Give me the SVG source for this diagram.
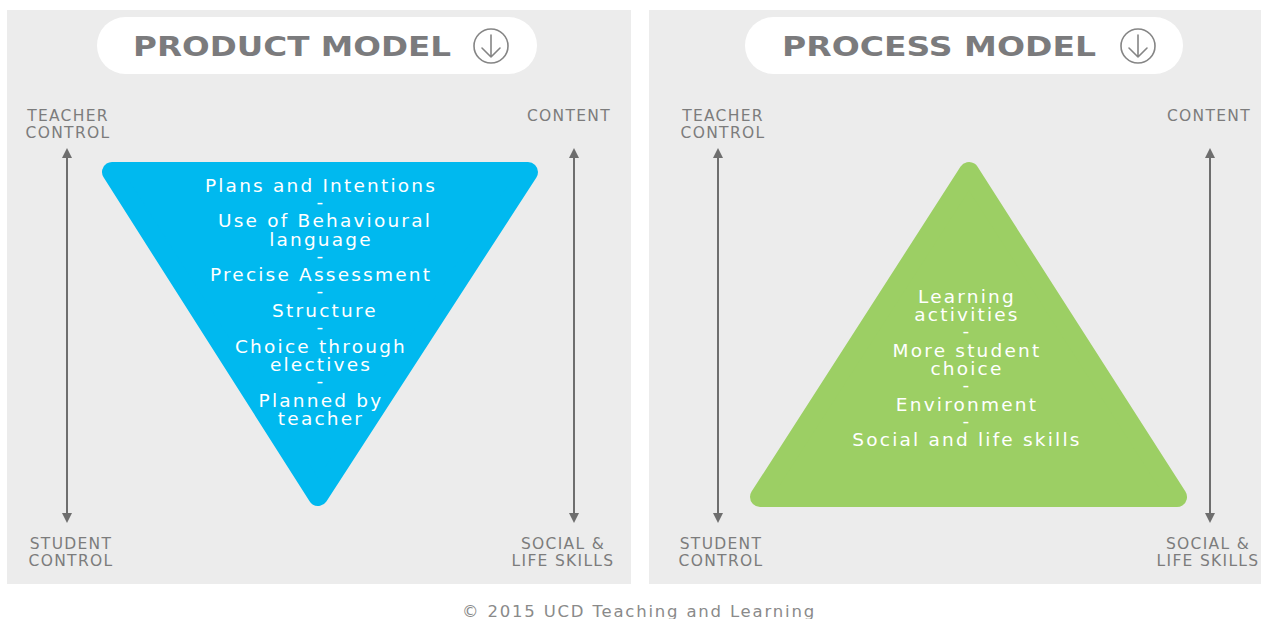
<svg xmlns="http://www.w3.org/2000/svg" width="1261" height="619" viewBox="0 0 1261 619">
<defs>
<style>
.panel{fill:#ececec}
.pill{fill:#ffffff}
.title{font-family:"DejaVu Sans","Liberation Sans",sans-serif;font-weight:bold;font-size:26px;fill:#7b7b7d;text-anchor:middle}
.icon{fill:none;stroke:#858585;stroke-width:1.6;stroke-linecap:round;stroke-linejoin:round}
.lbl{font-family:"DejaVu Sans","Liberation Sans",sans-serif;font-size:15.5px;letter-spacing:1.3px;fill:#7c7c7c;text-anchor:middle}
.body{font-family:"DejaVu Sans","Liberation Sans",sans-serif;font-size:18.5px;letter-spacing:2.2px;fill:#ffffff;text-anchor:middle}
.axis{stroke:#6e6e6e;stroke-width:2;fill:none}
.copy{font-family:"DejaVu Sans","Liberation Sans",sans-serif;font-size:16.5px;letter-spacing:1.8px;fill:#8a8a8a;text-anchor:middle}
</style>
<marker id="ah" viewBox="0 0 10 10" refX="8" refY="5" markerWidth="5" markerHeight="5" orient="auto-start-reverse" markerUnits="strokeWidth">
<path d="M0,0 L10,5 L0,10 z" fill="#6e6e6e"/>
</marker>
</defs>
<rect width="1261" height="619" fill="#ffffff"/>
<g id="product-panel">
<rect class="panel" x="7" y="10" width="624" height="574"/>
<rect class="pill" x="97" y="17" width="440" height="57" rx="28.5"/>
<text class="title" x="292" y="56" textLength="318" lengthAdjust="spacingAndGlyphs">PRODUCT MODEL</text>
<g class="icon"><circle cx="491" cy="46" r="17"/><path d="M491,35 V57 M482,48 L491,57 L500,48"/></g>
<text class="lbl" x="68" y="121">TEACHER</text>
<text class="lbl" x="68" y="138">CONTROL</text>
<text class="lbl" x="569" y="121">CONTENT</text>
<text class="lbl" x="71" y="549">STUDENT</text>
<text class="lbl" x="71" y="566">CONTROL</text>
<text class="lbl" x="563" y="549">SOCIAL &amp;</text>
<text class="lbl" x="563" y="566">LIFE SKILLS</text>
</g>
<g id="product-triangle">
<path d="M112,172 L528,172 L318,496 Z" fill="#00b9ef" stroke="#00b9ef" stroke-width="20" stroke-linejoin="round"/>
<text class="body" x="321" y="192">Plans and Intentions</text>
<text class="body" x="321" y="208">-</text>
<text class="body" x="325" y="227">Use of Behavioural</text>
<text class="body" x="321" y="246">language</text>
<text class="body" x="321" y="262">-</text>
<text class="body" x="321" y="281">Precise Assessment</text>
<text class="body" x="321" y="297">-</text>
<text class="body" x="325" y="317">Structure</text>
<text class="body" x="321" y="333">-</text>
<text class="body" x="321" y="353">Choice through</text>
<text class="body" x="321" y="371">electives</text>
<text class="body" x="321" y="387">-</text>
<text class="body" x="321" y="407">Planned by</text>
<text class="body" x="321" y="425">teacher</text>
</g>
<g id="process-panel">
<rect class="panel" x="649" y="10" width="612" height="574"/>
<rect class="pill" x="745" y="17" width="438" height="57" rx="28.5"/>
<text class="title" x="939" y="56" textLength="314" lengthAdjust="spacingAndGlyphs">PROCESS MODEL</text>
<g class="icon"><circle cx="1138" cy="46" r="17"/><path d="M1138,35 V57 M1129,48 L1138,57 L1147,48"/></g>
<text class="lbl" x="723" y="121">TEACHER</text>
<text class="lbl" x="723" y="138">CONTROL</text>
<text class="lbl" x="1209" y="121">CONTENT</text>
<text class="lbl" x="721" y="549">STUDENT</text>
<text class="lbl" x="721" y="566">CONTROL</text>
<text class="lbl" x="1208" y="549">SOCIAL &amp;</text>
<text class="lbl" x="1208" y="566">LIFE SKILLS</text>
</g>
<g id="process-triangle">
<path d="M969,172 L1177,497 L760,497 Z" fill="#9ccf64" stroke="#9ccf64" stroke-width="20" stroke-linejoin="round"/>
<text class="body" x="967" y="303">Learning</text>
<text class="body" x="967" y="321">activities</text>
<text class="body" x="967" y="337">-</text>
<text class="body" x="967" y="357">More student</text>
<text class="body" x="967" y="375">choice</text>
<text class="body" x="967" y="391">-</text>
<text class="body" x="967" y="411">Environment</text>
<text class="body" x="967" y="427">-</text>
<text class="body" x="967" y="446">Social and life skills</text>
</g>
<g id="connectors">
<line class="axis" x1="67" y1="150" x2="67" y2="521" marker-start="url(#ah)" marker-end="url(#ah)"/>
<line class="axis" x1="574" y1="150" x2="574" y2="521" marker-start="url(#ah)" marker-end="url(#ah)"/>
<line class="axis" x1="718" y1="150" x2="718" y2="521" marker-start="url(#ah)" marker-end="url(#ah)"/>
<line class="axis" x1="1210" y1="150" x2="1210" y2="521" marker-start="url(#ah)" marker-end="url(#ah)"/>
</g>
<text class="copy" x="639" y="617">© 2015 UCD Teaching and Learning</text>
</svg>
